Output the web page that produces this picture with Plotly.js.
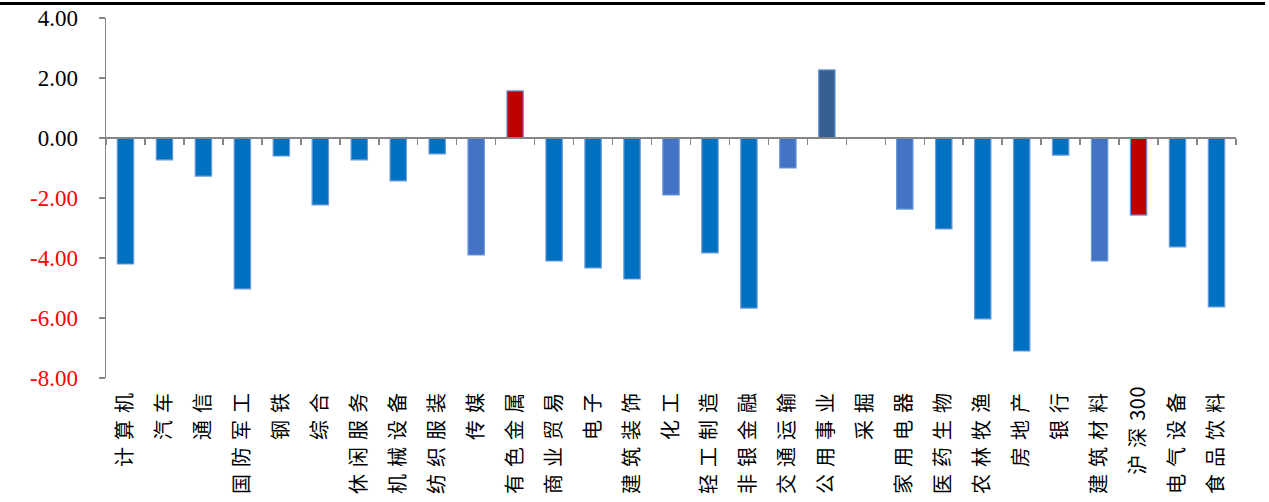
<!DOCTYPE html>
<html>
<head>
<meta charset="utf-8">
<script src="https://cdn.plot.ly/plotly-3.0.1.min.js"></script>
<style>
  html, body { margin: 0; padding: 0; background: #fff; }
  #wrap { position: relative; width: 1269px; height: 502px; }
  #rule { position: absolute; left: 0; top: 2px; width: 1265px; height: 3px; background: #000; z-index: 2; }
  #chart { position: absolute; left: 0; top: 0; width: 1269px; height: 502px; }
  .xaxislayer-above .xtick text { letter-spacing: 7px; }
</style>
</head>
<body>
<div id="wrap">
  <div id="chart"></div>
  <div id="rule"></div>
</div>
<script>
// Sector returns (%), one bar per industry plus the CSI 300 benchmark
const categories = ['计算机', '汽车', '通信', '国防军工', '钢铁', '综合', '休闲服务', '机械设备',
  '纺织服装', '传媒', '有色金属', '商业贸易', '电子', '建筑装饰', '化工', '轻工制造', '非银金融',
  '交通运输', '公用事业', '采掘', '家用电器', '医药生物', '农林牧渔', '房地产', '银行', '建筑材料',
  '沪深300', '电气设备', '食品饮料'];

const values = [-4.20, -0.73, -1.27, -5.03, -0.60, -2.23, -0.73, -1.43,
  -0.53, -3.90, 1.57, -4.10, -4.33, -4.70, -1.90, -3.83, -5.67,
  -1.00, 2.27, 0.00, -2.37, -3.03, -6.03, -7.10, -0.57, -4.10,
  -2.57, -3.63, -5.63];

const yTickValues = [4, 2, 0, -2, -4, -6, -8];

// Fill colour for each bar
const BLUE = '#0070C0', LIGHT = '#4472C4', RED = '#C00000', DARK = '#376092';
const barColors = [BLUE, BLUE, BLUE, BLUE, BLUE, BLUE, BLUE, BLUE,
  BLUE, LIGHT, RED, BLUE, BLUE, BLUE, LIGHT, BLUE, BLUE,
  LIGHT, DARK, BLUE, LIGHT, BLUE, BLUE, BLUE, BLUE, LIGHT,
  RED, BLUE, BLUE];

const yTickText = yTickValues.map(v => {
  const s = v.toFixed(2);
  return v < 0 ? '<span style="color:#FF0000">' + s + '</span>' : s;
});

// digits keep their natural spacing inside the widely spaced CJK labels
const xTickText = categories.map(c =>
  c.replace(/(\d+)/, '<span style="letter-spacing:0.5px">$1</span>'));

const AXIS_GREY = '#868686';

const bars = {
  type: 'bar',
  x: categories,
  y: values,
  xaxis: 'x',
  yaxis: 'y',
  width: 0.42,
  marker: { color: barColors, line: { color: '#6A9AD8', width: 1.2 } },
  hoverinfo: 'x+y'
};

// carrier for the zero-line axis that holds the category boundary ticks
const zeroAxisCarrier = {
  type: 'scatter',
  mode: 'markers',
  x: categories,
  y: categories.map(() => 0),
  xaxis: 'x2',
  yaxis: 'y',
  marker: { opacity: 0 },
  hoverinfo: 'skip',
  showlegend: false
};

const layout = {
  width: 1269,
  height: 502,
  margin: { l: 106, r: 33, t: 18, b: 124 },
  paper_bgcolor: '#ffffff',
  plot_bgcolor: '#ffffff',
  showlegend: false,
  xaxis: {
    type: 'category',
    categoryorder: 'array',
    categoryarray: categories,
    tickvals: categories,
    ticktext: xTickText,
    range: [-0.5, categories.length - 0.5],
    showline: false,
    showgrid: false,
    zeroline: false,
    ticks: '',
    tickangle: -90,
    ticklabelstandoff: 3,
    tickfont: { family: '"Noto Sans CJK SC", sans-serif', size: 20, color: '#000' }
  },
  xaxis2: {
    type: 'category',
    categoryorder: 'array',
    categoryarray: categories,
    range: [-0.5, categories.length - 0.5],
    overlaying: 'x',
    anchor: 'free',
    position: 2 / 3,
    side: 'bottom',
    showline: true,
    linecolor: AXIS_GREY,
    linewidth: 2,
    showgrid: false,
    zeroline: false,
    ticks: 'outside',
    tickson: 'boundaries',
    ticklen: 6,
    tickwidth: 1.5,
    tickcolor: AXIS_GREY,
    showticklabels: false
  },
  yaxis: {
    range: [-8, 4],
    tickvals: yTickValues,
    ticktext: yTickText,
    showline: true,
    linecolor: AXIS_GREY,
    linewidth: 1.5,
    showgrid: false,
    zeroline: false,
    ticks: 'outside',
    ticklen: 6,
    tickwidth: 1.5,
    tickcolor: AXIS_GREY,
    ticklabelstandoff: 16,
    tickfont: { family: '"Liberation Serif", "DejaVu Serif", serif', size: 23, color: '#000' }
  }
};

Plotly.newPlot('chart', [bars, zeroAxisCarrier], layout, { displayModeBar: false, staticPlot: true });
</script>
</body>
</html>
